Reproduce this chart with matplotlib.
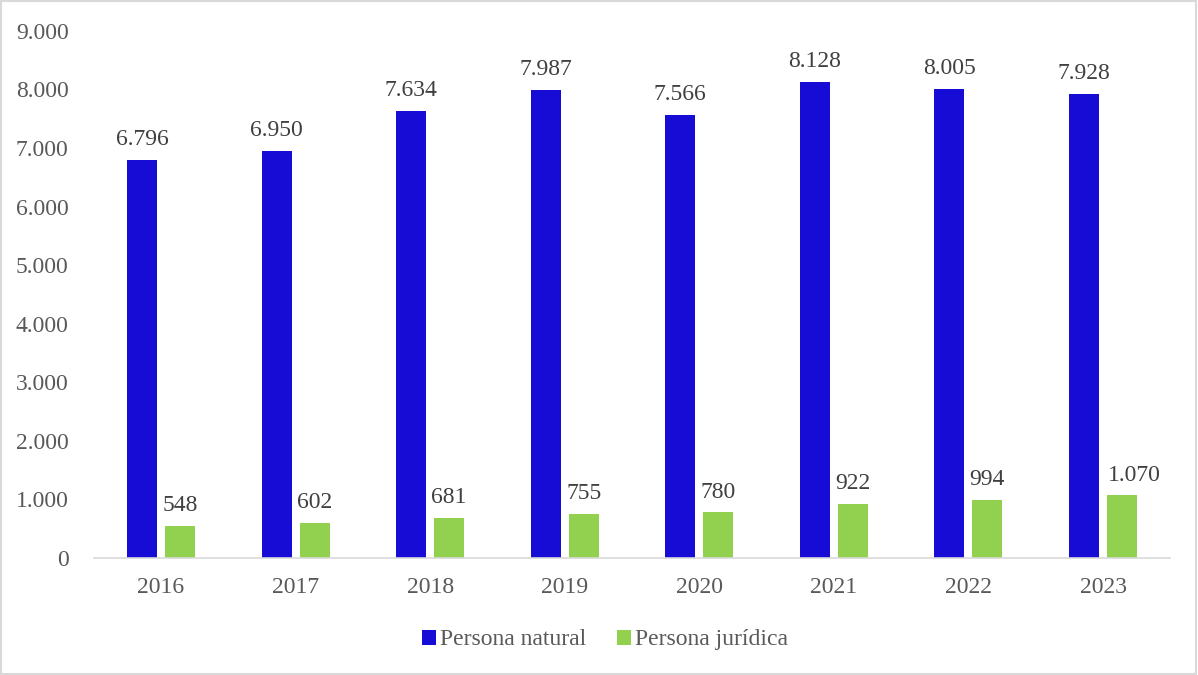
import matplotlib
matplotlib.use("Agg")
import matplotlib.pyplot as plt
import numpy as np
from matplotlib.patches import Rectangle

years = ["2016", "2017", "2018", "2019", "2020", "2021", "2022", "2023"]
natural = [6796, 6950, 7634, 7987, 7566, 8128, 8005, 7928]
juridica = [548, 602, 681, 755, 780, 922, 994, 1070]
yticks = [0, 1000, 2000, 3000, 4000, 5000, 6000, 7000, 8000, 9000]

def fmt(v):
    return f"{v:,}".replace(",", ".")

plt.rcParams['font.family'] = ['Liberation Serif', 'DejaVu Serif']
gray = "#595959"
blue = "#170CD6"
green = "#92D050"

fig = plt.figure(figsize=(11.98, 6.75), dpi=100)
ax = fig.add_axes([0.0782, 0.1733, 0.8987, 0.781])

x = np.arange(len(years))
w = 0.223
off = 0.141
b1 = ax.bar(x - off, natural, w, color=blue, label="Persona natural")
b2 = ax.bar(x + off, juridica, w, color=green, label="Persona jurídica")

ax.set_xlim(-0.5, len(years) - 0.5)
ax.set_ylim(0, 9000)

labels = []
for bars, vals in ((b1, natural), (b2, juridica)):
    for r, v in zip(bars, vals):
        t = ax.annotate(fmt(v), (r.get_x() + r.get_width() / 2, r.get_height()),
                        xytext=(0, 7), textcoords="offset points", ha="center", va="bottom",
                        fontsize=17, color="#404040")
        labels.append((bars is b2, r, t))

ax.set_yticks(yticks)
ax.set_yticklabels([fmt(v) for v in yticks])
ax.set_xticks(x)
ax.set_xticklabels(years)
ax.tick_params(axis="both", length=0, labelsize=17, colors=gray)
ax.tick_params(axis="y", pad=18)
ax.tick_params(axis="x", pad=14)
for s in ("top", "right", "left"):
    ax.spines[s].set_visible(False)
ax.spines["bottom"].set_color("#D9D9D9")
ax.spines["bottom"].set_linewidth(1.2)

# shift green labels that would overlap the neighbouring blue bar
fig.canvas.draw()
renderer = fig.canvas.get_renderer()
for is_green, r, t in labels:
    if not is_green:
        continue
    bb = t.get_window_extent(renderer)
    blue_right = ax.transData.transform((r.get_x() - (2 * off - w), 0))[0]
    if bb.x0 < blue_right + 2:
        shift = blue_right + 9 - bb.x0
        t.set_position((shift * 72 / fig.dpi, 7))

leg = fig.legend(handles=[b1, b2], labels=["Persona natural", "Persona jurídica"],
                 loc="center", bbox_to_anchor=(0.505, 0.052), ncol=2, frameon=False,
                 fontsize=17, handlelength=0.6, handleheight=0.6, handletextpad=0.15,
                 columnspacing=1.3, labelcolor=gray)

fig.patches.append(Rectangle((0.001, 0.001), 0.997, 0.997, transform=fig.transFigure,
                             fill=False, edgecolor="#D9D9D9", linewidth=1.5))

fig.savefig("out.png", dpi=100)
